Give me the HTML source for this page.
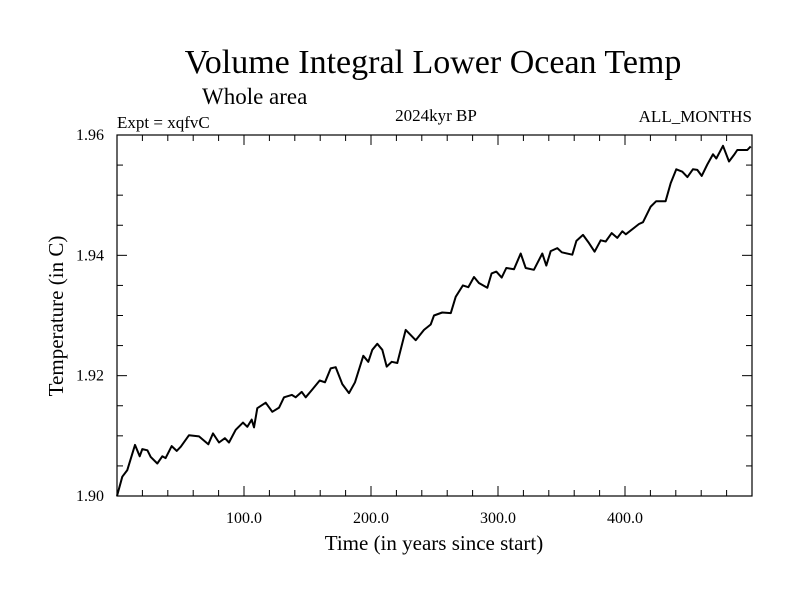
<!DOCTYPE html>
<html><head><meta charset="utf-8"><style>
body{margin:0;background:#fff}
svg{display:block}
text{font-family:"Liberation Serif",serif;fill:#000}
</style></head><body>
<svg id="chart" width="800" height="600" xmlns="http://www.w3.org/2000/svg">
<text x="433" y="73" font-size="34" text-anchor="middle">Volume Integral Lower Ocean Temp</text>
<text x="202" y="104" font-size="23">Whole area</text>
<text x="117" y="128" font-size="17">Expt = xqfvC</text>
<text x="436" y="121" font-size="17" text-anchor="middle">2024kyr BP</text>
<text x="752" y="122" font-size="17" text-anchor="end">ALL_MONTHS</text>
<text x="434" y="550" font-size="21" text-anchor="middle">Time (in years since start)</text>
<text x="0" y="0" font-size="21" text-anchor="middle" transform="translate(63,316) rotate(-90)">Temperature (in C)</text>
<g id="ticks"></g>
<path id="series" fill="none" stroke="#000" stroke-width="2" stroke-linejoin="round"/>
<rect x="117" y="135" width="635" height="361" fill="none" stroke="#000" stroke-width="1.2"/>
</svg>
<script>
const years=[0,4.2,8.1,14.2,17.9,19.9,23.9,26.5,31.7,35.7,38.3,43.1,47.0,50.2,56.7,64.6,71.9,75.6,80.3,85.0,88.2,93.5,99.2,102.6,106.1,107.9,110.5,117.1,122.3,127.6,131.5,137.6,140.7,145.4,148.6,153.8,159.6,163.8,168.3,172.2,177.4,182.7,187.4,193.9,197.9,201.0,205.0,208.9,212.4,216.3,220.7,227.3,235.2,241.7,247.0,249.6,256.1,262.8,266.7,272.4,276.6,281.1,285.0,291.6,295.0,298.7,302.9,306.5,312.6,317.9,321.8,328.3,334.9,338.0,341.5,346.7,350.2,358.5,361.7,366.9,371.1,376.1,380.9,384.8,389.5,393.9,397.9,400.6,411.0,414.2,420.2,424.6,432.0,436.0,440.4,445.1,449.1,453.5,456.9,460.4,464.8,469.3,471.9,477.2,481.9,485.8,488.4,496.3,499.0];
const temps=[1.9000,1.9032,1.9043,1.9085,1.9066,1.9078,1.9076,1.9065,1.9054,1.9066,1.9063,1.9083,1.9075,1.9082,1.9101,1.9099,1.9086,1.9104,1.9089,1.9096,1.9089,1.9110,1.9122,1.9115,1.9127,1.9114,1.9146,1.9155,1.9140,1.9147,1.9164,1.9168,1.9164,1.9173,1.9164,1.9177,1.9192,1.9189,1.9212,1.9214,1.9186,1.9171,1.9189,1.9233,1.9223,1.9243,1.9253,1.9243,1.9215,1.9223,1.9221,1.9276,1.9259,1.9276,1.9285,1.9300,1.9305,1.9304,1.9331,1.9350,1.9347,1.9364,1.9354,1.9346,1.9370,1.9373,1.9363,1.9379,1.9377,1.9403,1.9379,1.9376,1.9403,1.9383,1.9407,1.9412,1.9405,1.9401,1.9424,1.9434,1.9422,1.9406,1.9425,1.9423,1.9437,1.9429,1.9440,1.9435,1.9452,1.9455,1.9481,1.9490,1.9490,1.9520,1.9543,1.9539,1.9530,1.9543,1.9542,1.9532,1.9551,1.9568,1.9561,1.9582,1.9556,1.9567,1.9575,1.9575,1.9581];
const xTickLabels=["100.0","200.0","300.0","400.0"];
const xTickValues=[100,200,300,400];
const yTickLabels=["1.90","1.92","1.94","1.96"];
const yTickValues=[1.90,1.92,1.94,1.96];
const X0=117,X1=752,Y0=496,Y1=135,XMIN=0,XMAX=500,YMIN=1.90,YMAX=1.96;
const sx=v=>X0+(v-XMIN)/(XMAX-XMIN)*(X1-X0);
const sy=v=>Y0-(v-YMIN)/(YMAX-YMIN)*(Y0-Y1);
const NS="http://www.w3.org/2000/svg";
const g=document.getElementById('ticks');
function line(x1,y1,x2,y2){const l=document.createElementNS(NS,'line');l.setAttribute('x1',x1);l.setAttribute('y1',y1);l.setAttribute('x2',x2);l.setAttribute('y2',y2);l.setAttribute('stroke','#000');l.setAttribute('stroke-width','1');


g.appendChild(l);}
for(let v=20;v<500;v+=20){const x=sx(v);const len=(v%100===0)?10:6;line(x,Y0,x,Y0-len);line(x,Y1,x,Y1+len);}
for(let v=1.905;v<1.9599;v+=0.005){const y=sy(v);const maj=Math.abs(Math.round(v*1000)%20)<1;const len=maj?10:6;line(X0,y,X0+len,y);line(X1,y,X1-len,y);}
xTickValues.forEach((v,i)=>{const t=document.createElementNS(NS,'text');t.setAttribute('x',sx(v));t.setAttribute('y',523);t.setAttribute('font-size','16');t.setAttribute('text-anchor','middle');t.textContent=xTickLabels[i];


g.appendChild(t);});
yTickValues.forEach((v,i)=>{const t=document.createElementNS(NS,'text');t.setAttribute('x',104);t.setAttribute('y',sy(v)+5);t.setAttribute('font-size','16');t.setAttribute('text-anchor','end');t.textContent=yTickLabels[i];


g.appendChild(t);});
document.getElementById('series').setAttribute('d',years.map((y,i)=>(i?'L':'M')+sx(y).toFixed(1)+','+sy(temps[i]).toFixed(1)).join(''));
</script>
</body></html>
